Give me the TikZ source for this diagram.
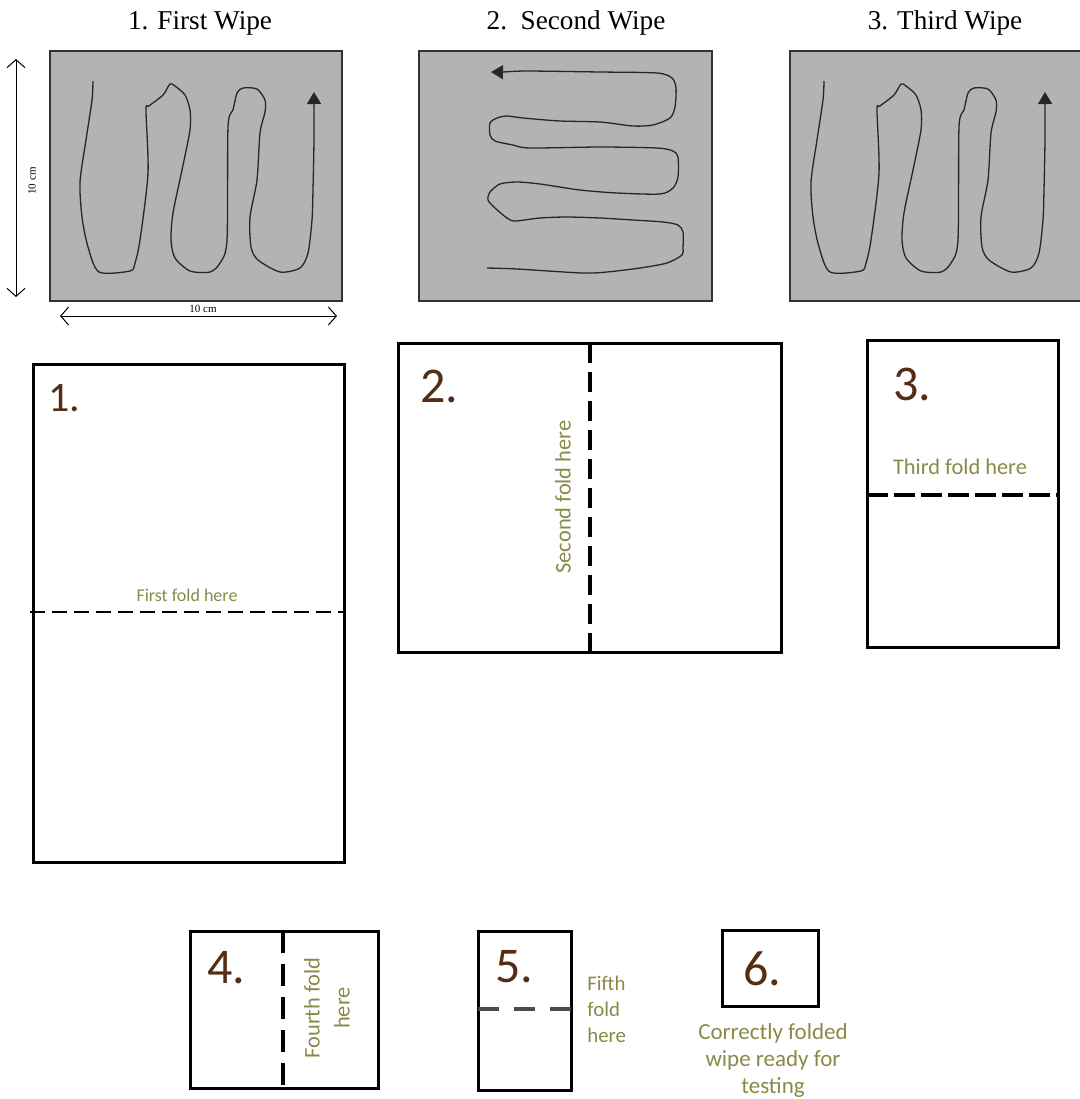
\documentclass[tikz,border=0pt]{standalone}
\usepackage{fontspec}
\setmainfont{Liberation Serif}
\newfontfamily\gill{Carlito}
\usetikzlibrary{arrows.meta}
\definecolor{foldtxt}{RGB}{138,138,72}
\definecolor{numbrown}{RGB}{85,45,20}
\definecolor{wipegray}{RGB}{179,179,179}
\tikzset{
  wipe/.style={fill=wipegray, draw=black!80, line width=0.6pt},
  wipepath/.style={line width=0.65pt, draw=black!85, line join=round},
  headtip/.style={-{Triangle[length=6pt,width=7pt]}},
  title/.style={font=\fontsize{13.6pt}{15pt}\selectfont, inner sep=0pt},
  small/.style={font=\fontsize{5.5pt}{6pt}\selectfont, inner sep=0pt},
  measure/.style={line width=0.5pt, {Straight Barb[length=4pt,width=9pt]}-{Straight Barb[length=4pt,width=9pt]}},
  foldbox/.style={line width=1.5pt},
  num/.style={font=\gill\fontsize{25pt}{28pt}\selectfont, text=numbrown, inner sep=0pt},
  foldlab/.style={font=\gill\fontsize{11.2pt}{14pt}\selectfont, text=foldtxt, inner sep=0pt},
}
\begin{document}
\begin{tikzpicture}[x=0.5pt,y=-0.5pt]
\useasboundingbox (0,0) rectangle (1080,1099);

% titles
\node[title] (t1) at (200,23) {1. First Wipe};
\node[title] (t2) at (576,23) {2.\ \ Second Wipe};
\node[title] (t3) at (945,23) {3. Third Wipe};

% wipe panels
\draw[wipe] (50,51) rectangle (342,301);
\draw[wipe] (419,51) rectangle (712,301);
\draw[wipe] (790,51) rectangle (1083,301);

% measures
\coordinate (vtop) at (16,59);
\coordinate (vbot) at (16,297);
\coordinate (hl) at (60,316);
\coordinate (hr) at (337,316);
\draw[measure] (vtop) -- (vbot);
\draw[measure] (hl) -- (hr);
\node[small, rotate=90] (v10) at (32,181) {10 cm};
\node[small] (h10) at (203,309) {10 cm};

% wipe path 1 and 3
\foreach \dx/\nm in {0/p1, 731/p3}{
\begin{scope}[shift={(\dx,0)}]
\draw[wipepath, headtip] plot[smooth, tension=0.45] coordinates {
(93,81) (92,100) (86,140) (80,182) (82,217) (88,247) (99,272) (130,271) (135,263)
(140,240) (148,173) (146,110) (149,106) (163,95) (170,84) (175,86) (185,95) (190,110)
(190,130) (182,170) (173,213) (171,240) (175,258) (190,271) (210,272) (220,263)
(227,240) (228,127) (233,110) (237,93) (243,88) (257,89) (265,100) (265,112) (260,133)
(257,180) (250,217) (251,247) (258,260) (280,272) (300,268) (308,253) (312,220) (313,190) (314,140) (314,92)};
\end{scope}
}

% wipe path 2
\draw[wipepath, headtip] plot[smooth, tension=0.45] coordinates {
(487,268) (517,269) (582,273) (607,272) (640,268) (667,263) (682,255) (683,248)
(683,232) (678,225) (663,222) (633,220) (600,218) (567,217) (540,218) (515,221)
(507,218) (495,208) (488,200) (490,192) (500,184) (517,182) (540,184) (580,190)
(617,193) (660,194) (673,188) (678,177) (678,157) (673,151) (657,148) (600,147)
(530,148) (513,145) (495,141) (490,135) (490,123) (497,118) (507,116) (523,118)
(560,121) (600,122) (633,126) (653,125) (670,118) (675,107) (676,88) (672,78)
(657,73) (600,72) (527,71) (503,72) (491,72)};

% fold box 1
\draw[foldbox] (33,364) rectangle (344,862);
\draw[line width=1pt, dash pattern=on 7.5pt off 3.5pt] (30,612) -- (343,612);
\node[num, font=\gill\fontsize{21pt}{24pt}\selectfont] (n1) at (64,398) {1.};
\node[foldlab, font=\gill\fontsize{9pt}{11pt}\selectfont] (f1) at (187,595) {First fold here};

% fold box 2
\draw[foldbox] (398,343) rectangle (781,652);
\draw[line width=1.8pt, dash pattern=on 10pt off 4.5pt] (590,343) -- (590,652);
\node[num] (n2) at (439,386) {2.};
\node[foldlab, rotate=90] (f2) at (563,497) {Second fold here};

% fold box 3
\draw[foldbox] (867,340) rectangle (1058,647);
\draw[line width=2pt, dash pattern=on 10.5pt off 3pt] (867,495) -- (1058,495);
\node[num] (n3) at (912,384) {3.};
\node[foldlab] (f3) at (960,467) {Third fold here};

% fold box 4
\draw[foldbox] (190,931) rectangle (378,1088);
\draw[line width=2pt, dash pattern=on 11pt off 5.5pt] (283,931) -- (283,1088);
\node[num] (n4) at (226,968) {4.};
\node[foldlab, rotate=90, align=center, font=\gill\fontsize{11.2pt}{15pt}\selectfont] (f4) at (327,1008) {Fourth fold\\here};

% fold box 5
\draw[foldbox] (478,931) rectangle (571,1090);
\draw[line width=2pt, draw=black!70, dash pattern=on 10.5pt off 7.5pt] (478,1009) -- (571,1009);
\node[num] (n5) at (514,967) {5.};
\node[foldlab, align=left, font=\gill\fontsize{10.4pt}{13pt}\selectfont, anchor=west] (f5) at (587,1009) {Fifth\\fold\\here};

% fold box 6
\draw[foldbox] (722,930) rectangle (818,1006);
\node[num] (n6) at (762,969) {6.};
\node[foldlab, align=center, font=\gill\fontsize{11.5pt}{13.5pt}\selectfont] (f6) at (773,1060) {Correctly folded\\wipe ready for\\testing};
\end{tikzpicture}
\end{document}
